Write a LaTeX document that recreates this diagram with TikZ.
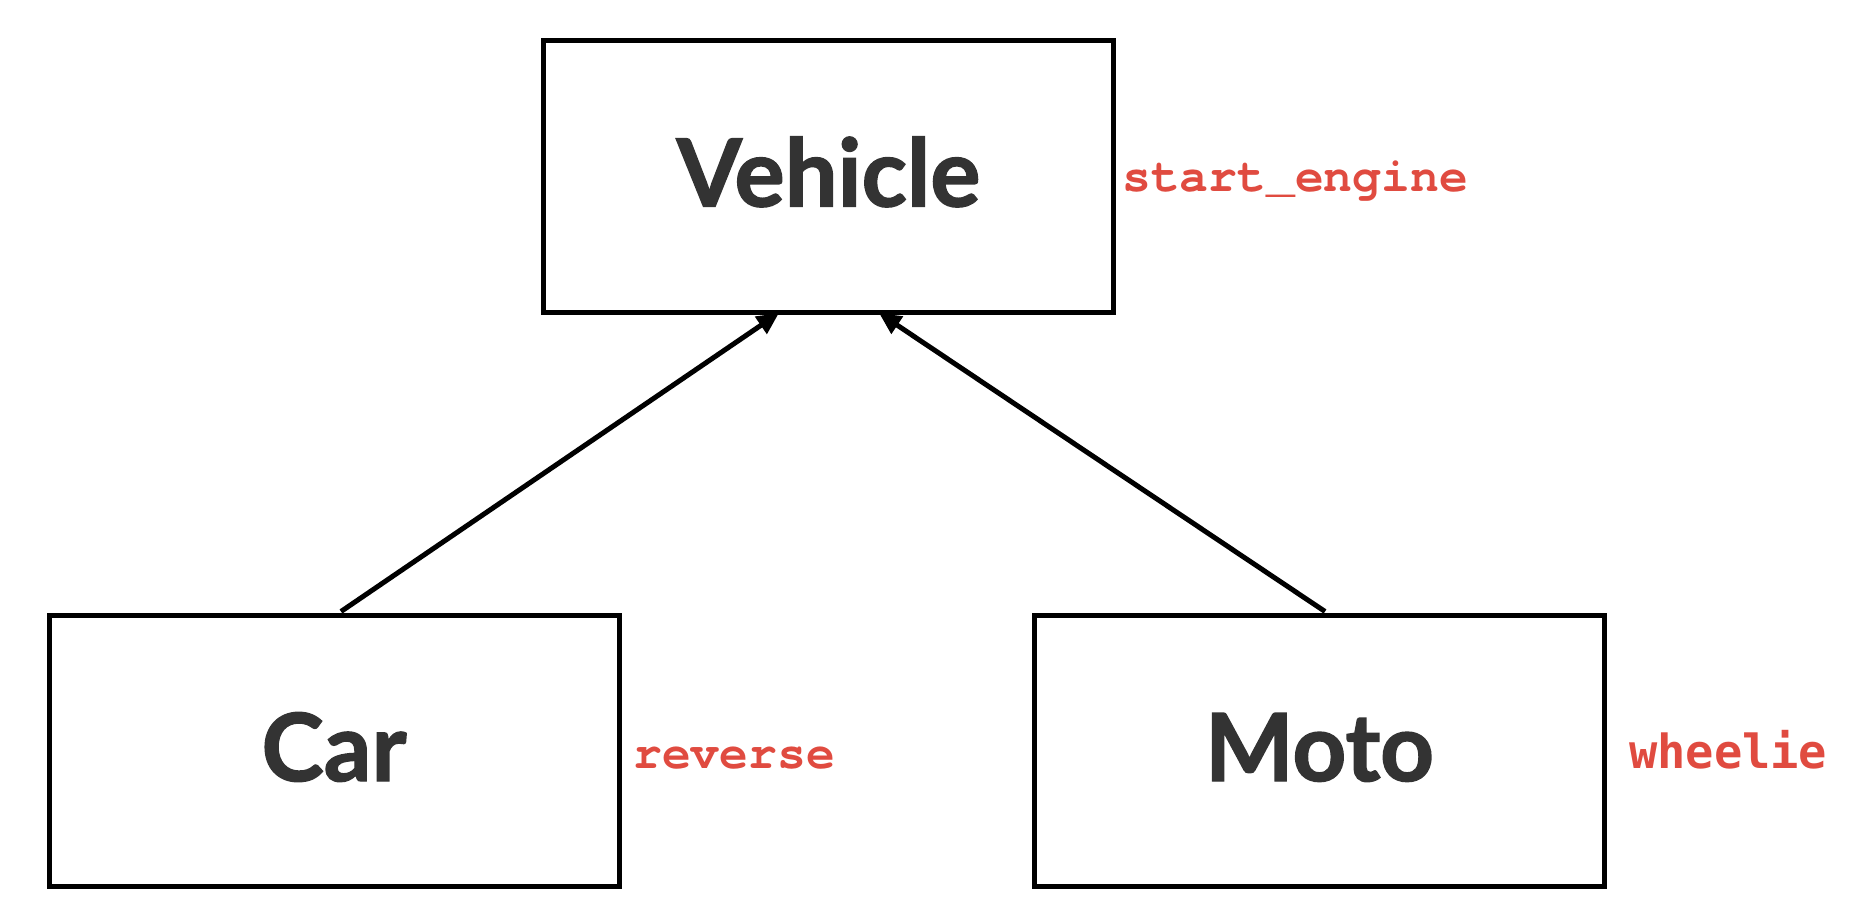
\documentclass[tikz,border=0pt]{standalone}
\usepackage{fontspec}
\usetikzlibrary{arrows.meta,calc}
\newfontfamily\titlefont{Lato}[BoldFeatures={FakeBold=1.5}]
\newfontfamily\slabmono{TeX Gyre Cursor}
\newfontfamily\sansmono{DejaVu Sans Mono}
\definecolor{titlegray}{HTML}{333333}
\definecolor{methodred}{HTML}{E04B40}
\begin{document}
\begin{tikzpicture}[x=1pt,y=-1pt,
  classbox/.style={draw=black, line width=5pt, minimum width=570pt, minimum height=271pt,
    inner sep=0pt, outer sep=0pt, text height=60pt, text depth=0pt,
    font=\titlefont\bfseries\fontsize{94}{94}\selectfont, text=titlegray},
  method/.style={anchor=base west, inner sep=0pt, text=methodred,
    font=\slabmono\bfseries\fontsize{48}{48}\selectfont},
  methodsans/.style={method, font=\sansmono\bfseries\fontsize{47}{47}\selectfont},
  inherit/.style={draw=black, line width=5pt, -{Triangle[length=22pt,width=20pt]}}]
\useasboundingbox (0,0) rectangle (1851,920);
\node[classbox] (vehicle) at (828.5,176.5) {Vehicle};
\node[classbox] (car) at (334,751) {Car};
\node[classbox] (moto) at (1319.5,751) {Moto};
\node[method] (startengine) at (1122,192) {start\_engine};
\node[method] (reverse) at (633,768) {reverse};
\node[methodsans] (wheelie) at (1629,768) {wheelie};
\draw[inherit] ($(car.north)+(7,-4)$) -- ($(vehicle.south)+(-49.5,1)$);
\draw[inherit] ($(moto.north)+(5.5,-4)$) -- ($(vehicle.south)+(50.5,1)$);
\end{tikzpicture}
\end{document}
